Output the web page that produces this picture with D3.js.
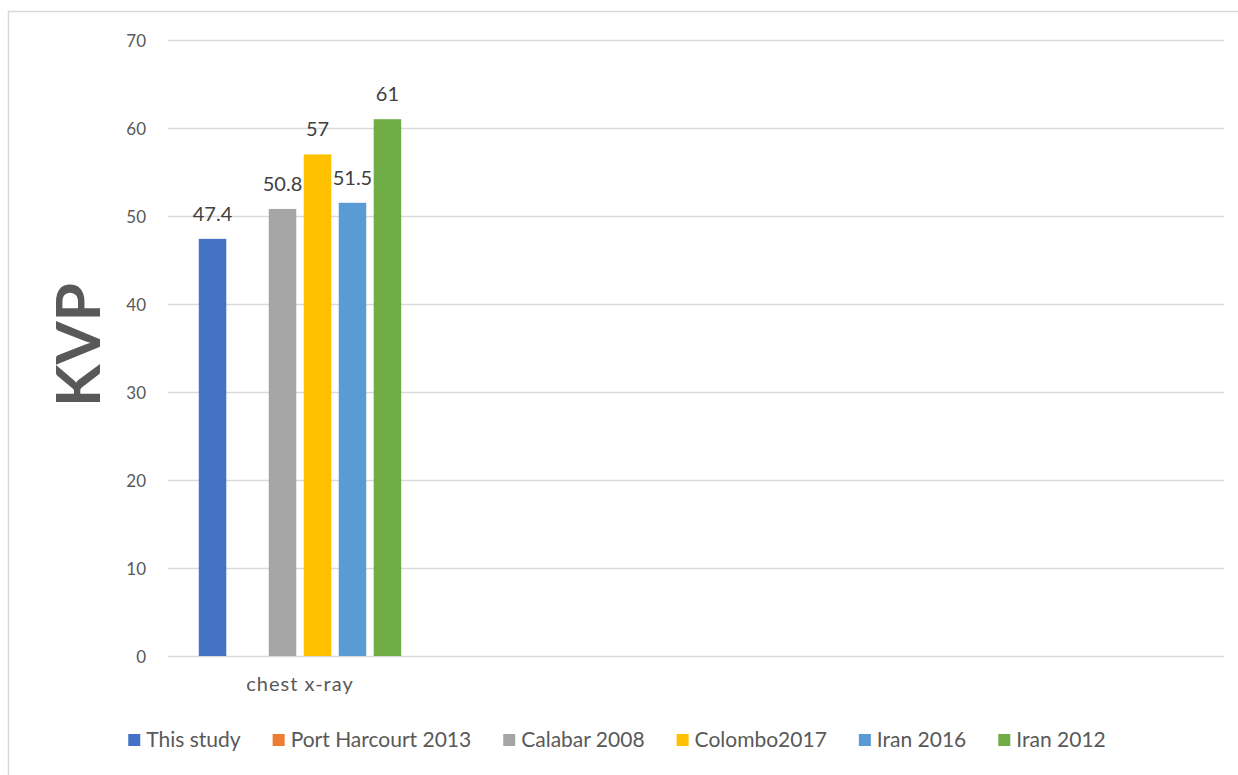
<!DOCTYPE html>
<html>
<head>
<meta charset="utf-8">
<script src="https://cdn.jsdelivr.net/npm/d3@7"></script>
<style>
  html, body { margin: 0; padding: 0; background: #fff; }
  svg { display: block; }
  text { font-family: Lato, "Open Sans", sans-serif; }
</style>
</head>
<body>
<svg id="chart" width="1238" height="775"></svg>
<script>
// Categories on the x axis (only the first one carries data)
const categories = ["chest x-ray", "", "", ""];
// Studies compared (one bar per study)
const seriesNames = ["This study", "Port Harcourt 2013", "Calabar 2008", "Colombo2017", "Iran 2016", "Iran 2012"];
// KVP values per study for "chest x-ray"; Port Harcourt has no value
const chestXrayValues = [47.4, null, 50.8, 57, 51.5, 61];
// Y axis ticks
const yTicks = [0, 10, 20, 30, 40, 50, 60, 70];

const palette = ["#4472C4", "#ED7D31", "#A5A5A5", "#FFC000", "#5B9BD5", "#70AD47"];

const W = 1238, H = 775;
const plot = { left: 168, right: 1224, top: 40, bottom: 656 };

const svg = d3.select("#chart");

// outer frame
svg.append("rect")
  .attr("x", 8.5).attr("y", 11.5)
  .attr("width", W + 10).attr("height", H + 10)
  .attr("fill", "#fff").attr("stroke", "#d9d9d9").attr("stroke-width", 1.5);

const catIdx = categories.map((_, i) => i);
const x0 = d3.scaleBand().domain(catIdx).range([plot.left, plot.right]).paddingInner(0).paddingOuter(0);
const x1 = d3.scaleBand().domain(d3.range(seriesNames.length))
  .range([0, x0.bandwidth()]).paddingInner(0.214).paddingOuter(0.88);
const y = d3.scaleLinear().domain([0, 70]).range([plot.bottom, plot.top]);

// gridlines
svg.append("g").selectAll("line").data(yTicks).join("line")
  .attr("x1", plot.left).attr("x2", plot.right)
  .attr("y1", d => y(d) + 0.5).attr("y2", d => y(d) + 0.5)
  .attr("stroke", "#d9d9d9").attr("stroke-width", 1.3);

// y tick labels
const yAxis = d3.axisLeft(y).tickValues(yTicks).tickSize(0).tickPadding(0);
const gy = svg.append("g").attr("transform", `translate(146,1)`).call(yAxis);
gy.select(".domain").remove();
gy.selectAll("text")
  .attr("font-family", "Lato, sans-serif")
  .attr("font-size", 17).attr("fill", "#595959");

// category labels
const xAxis = d3.axisBottom(x0).tickFormat(i => categories[i]).tickSize(0).tickPadding(0);
const gx = svg.append("g").attr("transform", `translate(0,${plot.bottom + 21})`).call(xAxis);
gx.select(".domain").remove();
gx.selectAll("text")
  .attr("font-family", "Lato, sans-serif")
  .attr("font-size", 20).attr("letter-spacing", 1).attr("fill", "#595959");

// bars for the first category
const barData = chestXrayValues.map((v, i) => ({ cat: 0, s: i, v }));
const bars = svg.append("g").attr("transform", `translate(${x0(0)},0)`);
bars.selectAll("rect").data(barData.filter(d => d.v != null)).join("rect")
  .attr("x", d => x1(d.s))
  .attr("width", x1.bandwidth())
  .attr("y", d => y(d.v))
  .attr("height", d => y(0) - y(d.v))
  .attr("fill", d => palette[d.s]);

// value labels
bars.selectAll("text").data(barData.filter(d => d.v != null)).join("text")
  .attr("x", d => x1(d.s) + x1.bandwidth() / 2)
  .attr("y", d => y(d.v) - 18)
  .attr("text-anchor", "middle")
  .attr("font-size", 20).attr("fill", "#404040")
  .text(d => d.v);

// axis title
svg.append("text")
  .attr("transform", "translate(100,345) rotate(-90)")
  .attr("text-anchor", "middle")
  .attr("font-family", "'Liberation Sans', Arial, sans-serif")
  .attr("font-weight", "bold")
  .attr("font-size", 62)
  .attr("fill", "#595959")
  .text("KVP");

// legend
const legend = svg.append("g").attr("transform", "translate(0,740)");
const items = legend.selectAll("g").data(seriesNames).join("g");
items.append("rect").attr("width", 12).attr("height", 12).attr("y", -6)
  .attr("fill", (d, i) => palette[i]);
items.append("text").attr("x", 18).attr("dy", "0.35em")
  .attr("font-size", 21).attr("fill", "#595959").text(d => d);
let widths = [];
items.each(function () { widths.push(18 + this.querySelector("text").getComputedTextLength()); });
const gap = 32;
const total = d3.sum(widths) + gap * (widths.length - 1);
let cx = 617 - total / 2;
items.attr("transform", (d, i) => { const t = `translate(${cx},0)`; cx += widths[i] + gap; return t; });
</script>
</body>
</html>
